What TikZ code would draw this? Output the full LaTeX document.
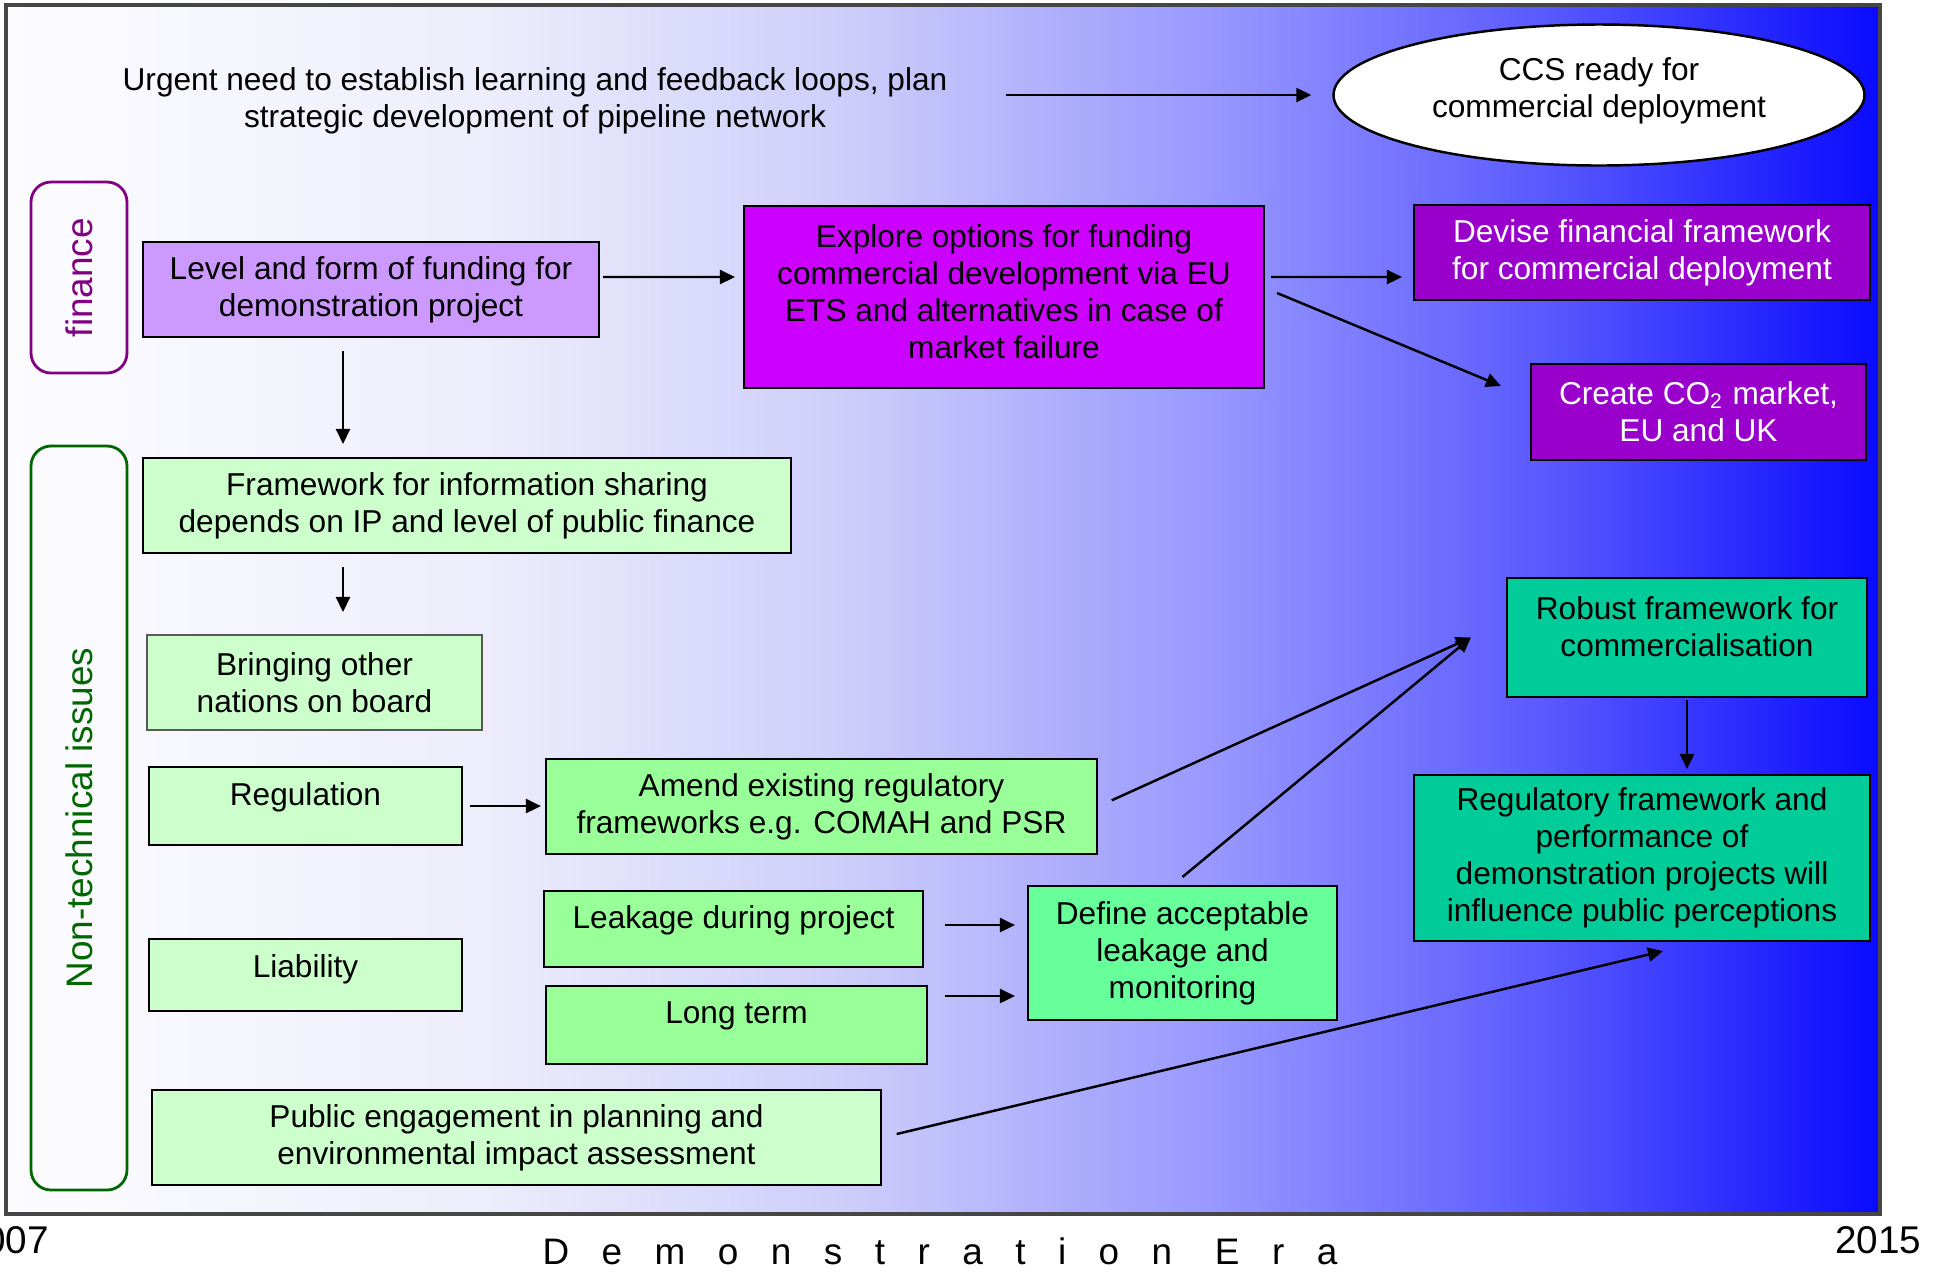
\documentclass[tikz,border=0pt]{standalone}
\usepackage{fontspec}
\setmainfont{Liberation Sans}
\usepackage{xcolor}
\usepackage{tikz}
\usetikzlibrary{positioning,shapes.geometric,arrows.meta,calc}
\definecolor{eraA}{RGB}{252,252,255}
\definecolor{eraB}{RGB}{238,238,252}
\definecolor{eraC}{RGB}{205,205,250}
\definecolor{eraD}{RGB}{150,150,255}
\definecolor{eraE}{RGB}{90,90,255}
\definecolor{eraF}{RGB}{10,10,255}
\definecolor{framegray}{RGB}{70,70,70}
\definecolor{finpurple}{RGB}{128,0,128}
\definecolor{issuegreen}{RGB}{0,102,0}
\definecolor{lilac}{RGB}{204,153,255}
\definecolor{brightviolet}{RGB}{204,0,255}
\definecolor{deepviolet}{RGB}{153,0,204}
\definecolor{palegreen}{RGB}{204,255,204}
\definecolor{lightgreen}{RGB}{153,255,153}
\definecolor{mintgreen}{RGB}{102,255,153}
\definecolor{seagreen}{RGB}{0,204,153}
\pgfdeclarehorizontalshading{eraband}{100bp}{color(0bp)=(eraA); color(25bp)=(eraA); color(37.5bp)=(eraB); color(47.5bp)=(eraC); color(57.5bp)=(eraD); color(66bp)=(eraE); color(75bp)=(eraF); color(100bp)=(eraF)}

\begin{document}
\begin{tikzpicture}[every node/.style={font=\fontsize{9}{10.5}\selectfont,align=center},
    box/.style={draw,line width=0.6pt,inner sep=0pt},
    side/.style={draw,rounded corners=0.2cm,line width=0.8pt,inner sep=0pt,rotate=90,font=\fontsize{10.5}{12}\selectfont},
    arr/.style={-{Triangle[length=0.15cm,width=0.14cm]},line width=0.7pt}]
    \useasboundingbox (0,0) rectangle (19.37,-12.72);
    \shade[shading=eraband] (0.06,-0.05) rectangle (18.80,-12.14);
    \draw[line width=1.1pt,draw=framegray] (0.06,-0.05) rectangle (18.80,-12.14);
    % goal
    \node (urgent) at (5.35,-1.01) {Urgent need to establish learning and feedback loops, plan\\strategic development of pipeline network};
    \node[ellipse,draw,fill=white,line width=0.7pt,minimum width=5.31cm,minimum height=1.41cm,inner sep=0pt,text depth=4pt] (ccs) at (15.99,-0.95) {CCS ready for\\commercial deployment};
    % side labels
    \node[side,draw=finpurple,text=finpurple,minimum width=1.91cm,minimum height=0.96cm] (finance) at (0.79,-2.775) {finance};
    \node[side,draw=issuegreen,text=issuegreen,minimum width=7.44cm,minimum height=0.96cm] (nontech) at (0.79,-8.18) {Non-technical issues};
    % finance
    \node[box,fill=lilac,minimum width=4.56cm,minimum height=0.95cm] (level) at (3.71,-2.895) {Level and form of funding for\\demonstration project};
    \node[box,fill=brightviolet,minimum width=5.20cm,minimum height=1.82cm,text depth=3.2pt] (explore) at (10.04,-2.97) {Explore options for funding\\commercial development via EU\\ETS and alternatives in case of\\market failure};
    \node[box,fill=deepviolet,text=white,minimum width=4.56cm,minimum height=0.95cm] (devise) at (16.42,-2.525) {Devise financial framework\\for commercial deployment};
    \node[box,fill=deepviolet,text=white,minimum width=3.35cm,minimum height=0.96cm] (create) at (16.985,-4.12) {Create CO\textsubscript{2} market,\\EU and UK};
    % non-technical
    \node[box,fill=palegreen,minimum width=6.48cm,minimum height=0.95cm] (framework) at (4.67,-5.055) {Framework for information sharing\\depends on IP and level of public finance};
    \node[box,fill=palegreen,draw=gray!70!black,minimum width=3.35cm,minimum height=0.95cm] (bringing) at (3.145,-6.825) {Bringing other\\nations on board};
    \node[box,fill=palegreen,minimum width=3.13cm,minimum height=0.78cm,text depth=7pt] (regulation) at (3.055,-8.06) {Regulation};
    \node[box,fill=lightgreen,minimum width=5.51cm,minimum height=0.95cm] (amend) at (8.215,-8.065) {Amend existing regulatory\\frameworks e.g. COMAH and PSR};
    \node[box,fill=palegreen,minimum width=3.13cm,minimum height=0.72cm,text depth=5.3pt] (liability) at (3.055,-9.75) {Liability};
    \node[box,fill=lightgreen,minimum width=3.79cm,minimum height=0.76cm,text depth=7pt] (leakage) at (7.335,-9.29) {Leakage during project};
    \node[box,fill=lightgreen,minimum width=3.81cm,minimum height=0.78cm,text depth=7pt] (longterm) at (7.365,-10.25) {Long term};
    \node[box,fill=mintgreen,minimum width=3.09cm,minimum height=1.34cm] (define) at (11.825,-9.53) {Define acceptable\\leakage and\\monitoring};
    \node[box,fill=seagreen,minimum width=3.60cm,minimum height=1.19cm,text depth=6.2pt] (robust) at (16.87,-6.375) {Robust framework for\\commercialisation};
    \node[box,fill=seagreen,minimum width=4.56cm,minimum height=1.66cm] (regfw) at (16.42,-8.58) {Regulatory framework and\\performance of\\demonstration projects will\\influence public perceptions};
    \node[box,fill=palegreen,minimum width=7.29cm,minimum height=0.95cm] (public) at (5.165,-11.375) {Public engagement in planning and\\environmental impact assessment};
    % timeline
    \node[font=\fontsize{11}{13}\selectfont] (startyear) at (0.06,-12.40) {2007};
    \node[font=\fontsize{11}{13}\selectfont] (endyear) at (18.78,-12.40) {2015};
    \node[font=\fontsize{10.5}{12}\selectfont\addfontfeature{LetterSpace=88}] (era) at (9.40,-12.51) {Demonstration Era};
    % links
    \draw[arr,shorten <=0.46cm,shorten >=0.21cm] (urgent.east |- ccs.west) -- (ccs.west);
    \draw[arr,shorten <=0.03cm,shorten >=0.08cm] ([yshift=0.125cm]level.east) -- ([yshift=0.2cm]explore.west);
    \draw[arr,shorten <=0.06cm,shorten >=0.11cm] ([yshift=0.2cm]explore.east) -- ([yshift=-0.245cm]devise.west);
    \draw[arr] ([xshift=0.12cm,yshift=0.04cm]explore.east) -- ([xshift=-0.29cm,yshift=-0.23cm]create.north west);
    \draw[arr,shorten <=0.13cm,shorten >=0.13cm] ([xshift=-0.28cm]level.south) -- ([xshift=-0.28cm]level.south |- framework.north);
    \draw[arr,shorten <=0.13cm,shorten >=0.22cm] ([xshift=0.285cm]bringing.north |- framework.south) -- ([xshift=0.285cm]bringing.north);
    \draw[arr,shorten <=0.07cm,shorten >=0.04cm] (regulation.east) -- (regulation.east -| amend.west);
    \draw[arr,shorten <=0.15cm] (amend.east) -- ([xshift=-0.35cm]robust.west);
    \draw[arr] ([yshift=0.08cm]define.north) -- ([xshift=-0.35cm]robust.west);
    \draw[arr,shorten <=0.21cm,shorten >=0.12cm] ([yshift=0.04cm]leakage.east) -- ([yshift=0.04cm]leakage.east -| define.west);
    \draw[arr,shorten <=0.17cm,shorten >=0.12cm] ([yshift=0.29cm]longterm.east) -- ([yshift=0.29cm]longterm.east -| define.west);
    \draw[arr,shorten <=0.02cm,shorten >=0.05cm] (robust.south) -- (robust.south |- regfw.north);
    \draw[arr,shorten <=0.15cm] (public.east) -- ([xshift=0.21cm,yshift=-0.09cm]regfw.south);
\end{tikzpicture}
\end{document}
